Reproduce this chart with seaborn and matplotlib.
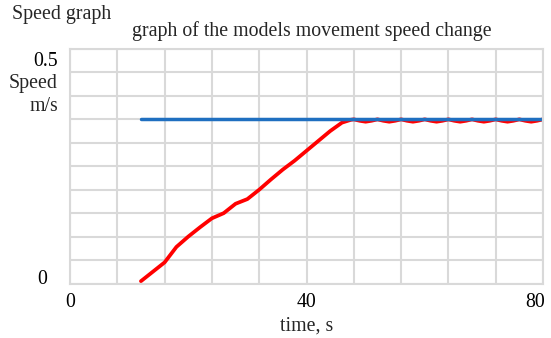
import matplotlib
matplotlib.use("Agg")
import matplotlib.pyplot as plt
import matplotlib.transforms as mtransforms
import seaborn as sns
import pandas as pd

# Données
time_target = [12, 80]
speed_target = [0.35, 0.35]

time_model = [12, 14, 16, 18, 20, 22, 24, 26, 28, 30, 32, 34, 36, 38, 40, 42, 44, 46, 47.5,
              48, 49, 50, 51, 52, 53, 54, 55, 56, 57, 58, 59, 60, 61, 62, 63, 64, 65, 66,
              67, 68, 69, 70, 71, 72, 73, 74, 75, 76, 77, 78, 79, 80]
speed_model = [0.005, 0.025, 0.045, 0.078, 0.100, 0.120, 0.139, 0.150, 0.170, 0.180, 0.200,
               0.222, 0.243, 0.262, 0.283, 0.304, 0.325, 0.343, 0.349,
               0.350, 0.347, 0.345, 0.347, 0.350, 0.347, 0.345, 0.347, 0.350, 0.347, 0.345,
               0.347, 0.350, 0.347, 0.345, 0.347, 0.350, 0.347, 0.345, 0.347, 0.350, 0.347,
               0.345, 0.347, 0.350, 0.347, 0.345, 0.347, 0.350, 0.347, 0.345, 0.347, 0.350]

x_ticks = [0, 40, 80]
y_ticks = [0, 0.5]

df_model = pd.DataFrame({"t": time_model, "v": speed_model})
df_target = pd.DataFrame({"t": time_target, "v": speed_target})

sns.set_theme(style="white")
plt.rcParams["font.family"] = ["Liberation Serif", "DejaVu Serif"]
fs = 14.3

fig = plt.figure(figsize=(5.51, 3.38), dpi=100)
ax = fig.add_axes([70 / 551, 1 - 283.5 / 338, 473 / 551, 234.5 / 338])

sns.lineplot(data=df_model, x="t", y="v", color="#ff0000", linewidth=2.7, ax=ax)
sns.lineplot(data=df_target, x="t", y="v", color="#1f6fc0", linewidth=2.5, ax=ax)

ax.set_xlim(0, 80)
ax.set_ylim(0, 0.5)
ax.set_xticks([i * 8 for i in range(11)], minor=True)
ax.set_yticks([i * 0.05 for i in range(11)], minor=True)
ax.set_xticks(x_ticks)
ax.set_xticklabels([str(v) for v in x_ticks])
ax.set_yticks(y_ticks)
ax.set_yticklabels(["0", "0.5"])
ax.grid(True, which="both", color="#d9d9d9", linewidth=1.5)
ax.set_axisbelow(True)
for s in ax.spines.values():
    s.set_color("#d9d9d9")
    s.set_linewidth(1.5)
ax.tick_params(which="both", length=0, labelsize=fs, colors="black")
ax.tick_params(axis="x", pad=7)
ax.tick_params(axis="y", pad=9)

# décalages façon Excel
ylabs = ax.get_yticklabels()
ylabs[0].set_transform(ylabs[0].get_transform() + mtransforms.ScaledTranslation(-10 / 100, 7 / 100, fig.dpi_scale_trans))
ylabs[1].set_transform(ylabs[1].get_transform() + mtransforms.ScaledTranslation(0, -10 / 100, fig.dpi_scale_trans))
ax.get_xticklabels()[-1].set_horizontalalignment("right")
ax.get_xticklabels()[-1].set_transform(ax.get_xticklabels()[-1].get_transform() + mtransforms.ScaledTranslation(2 / 100, 0, fig.dpi_scale_trans))

ax.set_xlabel("time, s", fontsize=fs)
ax.xaxis.set_label_coords(0.5, -0.14)
ax.set_ylabel("")
fig.text(58 / 551, 1 - 95 / 338, "Speed\nm/s", ha="right", va="center", fontsize=fs, linespacing=1.25)

fig.text(12 / 551, 1 - 14 / 338, "Speed graph", ha="left", va="center", fontsize=fs)
fig.text(312 / 551, 1 - 31 / 338, "graph of the models movement speed change", ha="center", va="center", fontsize=fs)

fig.savefig("out.png", dpi=100)
